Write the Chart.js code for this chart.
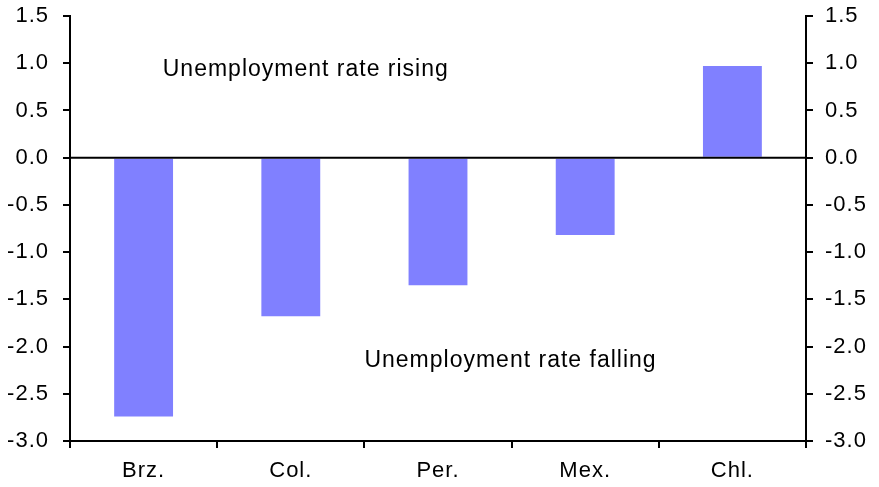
<!DOCTYPE html>
<html>
<head>
<meta charset="utf-8">
<script src="https://cdn.jsdelivr.net/npm/chart.js@4/dist/chart.umd.min.js"></script>
<style>
  html, body { margin: 0; padding: 0; background: #fff; }
  #box { width: 879px; height: 487px; position: relative; }
</style>
</head>
<body>
<div id="box"><canvas id="grafico"></canvas></div>
<script>
// dati
const paesi = ["Brz.", "Col.", "Per.", "Mex.", "Chl."];
const variazione = [-2.74, -1.68, -1.35, -0.82, 0.97];
const assePrimo = -3.0;
const asseUltimo = 1.5;
const passo = 0.5;

const notaSopra = "Unemployment rate rising";
const notaSotto = "Unemployment rate falling";

const font = { family: "'Liberation Sans', Arial, sans-serif", size: 22 };

// il testo originale e' un po' piu' largo
const spaziatura = {
  id: "spaziatura",
  beforeLayout(chart) { chart.ctx.letterSpacing = "1px"; },
  beforeDraw(chart) { chart.ctx.letterSpacing = "1px"; }
};

// linea dello zero e le due note
const extra = {
  id: "extra",
  afterDatasetsDraw(chart) {
    const c = chart.ctx;
    const x = chart.scales.x, y = chart.scales.y;
    const y0 = y.getPixelForValue(0);
    c.save();
    c.strokeStyle = "#000";
    c.lineWidth = 2;
    c.beginPath();
    c.moveTo(x.left, y0);
    c.lineTo(x.right, y0);
    c.stroke();

    c.fillStyle = "#000";
    c.font = "23px " + font.family;
    c.letterSpacing = "1px";
    c.textBaseline = "middle";
    c.textAlign = "left";
    c.fillText(notaSopra, x.getPixelForValue(0.13), y.getPixelForValue(0.93));
    c.fillText(notaSotto, x.getPixelForValue(1.5), y.getPixelForValue(-2.15));
    c.restore();
  }
};

function asseY(pos) {
  return {
    type: "linear",
    position: pos,
    min: assePrimo,
    max: asseUltimo,
    afterFit(s) {
      s.width = pos == "left" ? 66 : 73;
      s.paddingTop = 0;
      s.paddingBottom = 0;
    },
    border: { display: true, color: "#000", width: 2 },
    grid: { drawOnChartArea: false, drawTicks: true, tickLength: 7, color: "#000", lineWidth: 2 },
    ticks: {
      stepSize: passo,
      color: "#000",
      font: font,
      padding: pos == "left" ? 14 : 12,
      callback: v => v.toFixed(1)
    }
  };
}

new Chart(document.getElementById("grafico"), {
  type: "bar",
  data: {
    labels: paesi,
    datasets: [{
      data: variazione,
      backgroundColor: "#8080FF",
      borderWidth: 0,
      barPercentage: 0.4,
      categoryPercentage: 1
    }]
  },
  options: {
    responsive: true,
    maintainAspectRatio: false,
    animation: false,
    layout: { padding: { left: 4, right: 0, top: 16, bottom: 0 } },
    plugins: { legend: { display: false }, tooltip: { enabled: false } },
    scales: {
      x: {
        afterFit(s) { s.height = 46; },
        border: { display: true, color: "#000", width: 2 },
        grid: { offset: true, drawOnChartArea: false, drawTicks: true, tickLength: 7, color: "#000", lineWidth: 2 },
        ticks: { color: "#000", font: font, padding: 10 }
      },
      y: asseY("left"),
      y2: asseY("right")
    }
  },
  plugins: [spaziatura, extra]
});
</script>
</body>
</html>
